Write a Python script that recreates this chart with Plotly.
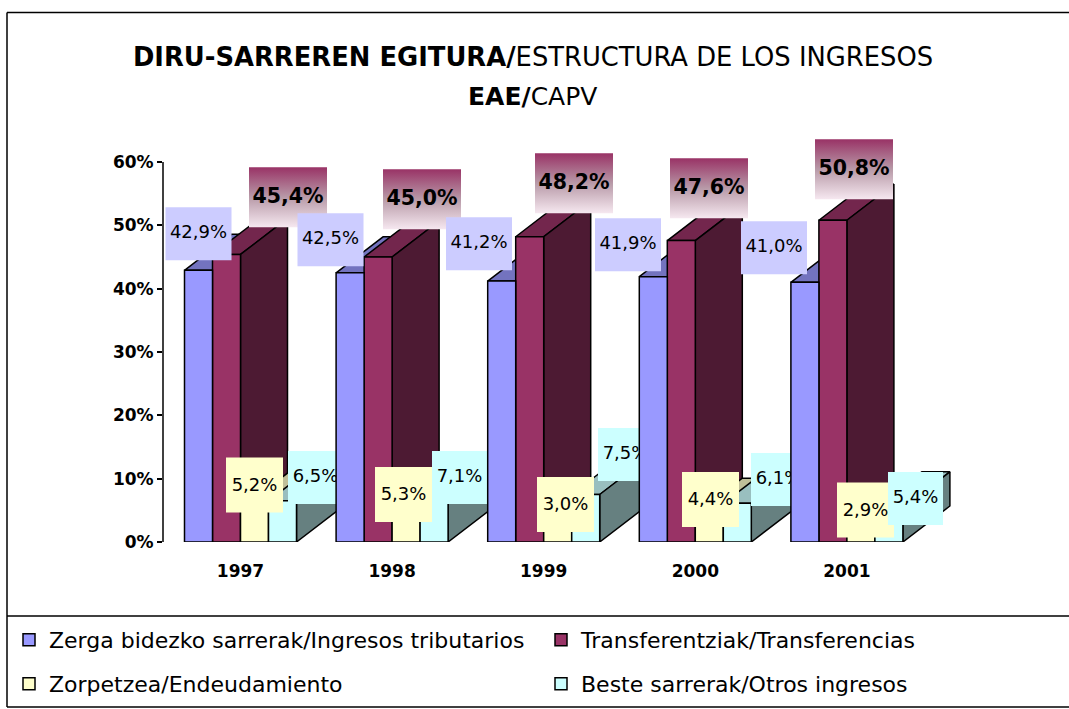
import plotly.graph_objects as go

# ---- data ----
YEARS = ["1997", "1998", "1999", "2000", "2001"]
SERIES_NAMES = [
    "Zerga bidezko sarrerak/Ingresos tributarios",
    "Transferentziak/Transferencias",
    "Zorpetzea/Endeudamiento",
    "Beste sarrerak/Otros ingresos",
]
TRIBUTARIOS = [42.9, 42.5, 41.2, 41.9, 41.0]
TRANSFERENCIAS = [45.4, 45.0, 48.2, 47.6, 50.8]
ENDEUDAMIENTO = [5.2, 5.3, 3.0, 4.4, 2.9]
OTROS = [6.5, 7.1, 7.5, 6.1, 5.4]
SERIES = [TRIBUTARIOS, TRANSFERENCIAS, ENDEUDAMIENTO, OTROS]
Y_TICKS = [0, 10, 20, 30, 40, 50, 60]

# ---- style: front / top / side colours ----
FRONT = ["#9999FF", "#993366", "#FFFFCC", "#CCFFFF"]
TOP = ["#7373BF", "#73264D", "#BFBF99", "#99BFBF"]
SIDE = ["#4D4D80", "#4D1A33", "#808066", "#668080"]
LABEL_BG = ["#CCCCFF", None, "#FFFFCC", "#CCFFFF"]

# ---- geometry (pixels of the 1069x709 page) ----
W, H = 1069, 709
PX_Y = 380 / 60  # pixels per percent
PLOT_L, PLOT_R, PLOT_B = 163, 1000, 542
PLOT_T = 120
PX_X = 151.6   # pixels per category
CENTER0 = 240.5
BAR_PX = 28
DEPTH_X = 47 / PX_X
DEPTH_Y = 36 / PX_Y
BAR_W = BAR_PX / PX_X
X_RANGE = [(PLOT_L - CENTER0) / PX_X, (PLOT_R - CENTER0) / PX_X]
Y_RANGE = [0, (PLOT_B - PLOT_T) / PX_Y]


def paper_x(px):
    return (px - PLOT_L) / (PLOT_R - PLOT_L)


def paper_y(py):
    return (PLOT_B - py) / (PLOT_B - PLOT_T)


# label placement: offset of box centre from the top-centre of its bar, in pixels
LABEL_DX = [
    [0, -19.6, -22.7, -25.3, -30.9],
    [61.5, 43.9, 44.3, 27.7, 21.1],
    [0, -2.6, 7.8, 1.2, 4.6],
    [33, 25.4, 39.8, 41.2, 26.6],
]
LABEL_DY = [
    [-36.5, -33.1, -37.3, -31.9, -34.6],
    [-57.2, -57.7, -53.4, -52.2, -50.9],
    [-24, -13.9, -18.5, -14.6, -13.6],
    [-23.3, -19.5, -39.9, -23.8, -9.3],
]
LABEL_SIZE = [(66, 53), (78, 60), (57, 55), (55, 53)]
LABEL_TEXT_SHIFT = [0.0, -0.1, -0.2, 0.0]  # in percent units

FONT = "DejaVu Sans"
LINE = dict(color="black", width=1.5)

fig = go.Figure()


def poly(xs, ys, color, axes, line=LINE, **kw):
    fig.add_trace(go.Scatter(
        x=xs + xs[:1], y=ys + ys[:1], mode="lines", fill="toself", fillcolor=color,
        line=line, hoverinfo="skip", showlegend=False, xaxis=axes[0], yaxis=axes[1],
        cliponaxis=False, **kw))


def bar_edges(s, g):
    left = g + (s - 2) * BAR_W
    return left, left + BAR_W


# layer 1: top and side faces, left to right inside each category
for g in range(len(YEARS)):
    for s, values in enumerate(SERIES):
        v = values[g]
        x0, x1 = bar_edges(s, g)
        poly([x0, x1, x1 + DEPTH_X, x0 + DEPTH_X], [v, v, v + DEPTH_Y, v + DEPTH_Y], TOP[s], ("x", "y"))
        poly([x1, x1 + DEPTH_X, x1 + DEPTH_X, x1], [0, DEPTH_Y, v + DEPTH_Y, v], SIDE[s], ("x", "y"))


LEGEND_OF = ["legend", "legend2", "legend3", "legend4"]


def front(s, axes):
    fig.add_trace(go.Bar(
        x=list(range(len(YEARS))), y=SERIES[s], name=SERIES_NAMES[s],
        width=BAR_W, offset=(s - 2) * BAR_W, marker=dict(color=FRONT[s], line=LINE),
        hoverinfo="skip", xaxis=axes[0], yaxis=axes[1], legend=LEGEND_OF[s]))


def label(s, g, axes):
    v = SERIES[s][g]
    x0, x1 = bar_edges(s, g)
    cx = (x0 + x1) / 2 + LABEL_DX[s][g] / PX_X
    cy = v - LABEL_DY[s][g] / PX_Y
    hw = LABEL_SIZE[s][0] / 2 / PX_X
    hh = LABEL_SIZE[s][1] / 2 / PX_Y
    xs, ys = [cx - hw, cx + hw, cx + hw, cx - hw], [cy - hh, cy - hh, cy + hh, cy + hh]
    none = dict(width=0, color="rgba(0,0,0,0)")
    if LABEL_BG[s] is None:
        poly(xs, ys, "rgba(0,0,0,0)", axes, line=none,
             fillgradient=dict(type="vertical", start=cy + hh, stop=cy - hh,
                               colorscale=[[0, "#993366"], [0.5, "#B89AA8"], [1, "#F6E8F0"]]))
    else:
        poly(xs, ys, LABEL_BG[s], axes, line=none)
    bold = LABEL_BG[s] is None
    txt = f"{v:.1f}%".replace(".", ",")
    fig.add_trace(go.Scatter(
        x=[cx], y=[cy + LABEL_TEXT_SHIFT[s]], mode="text", text=[f"<b>{txt}</b>" if bold else txt],
        textposition="middle center",
        textfont=dict(family=FONT, size=20.5 if bold else 18, color="black"),
        hoverinfo="skip", showlegend=False, xaxis=axes[0], yaxis=axes[1], cliponaxis=False))


# layer 2: front faces of three series
for s in (1, 2, 3):
    front(s, ("x2", "y2"))

# layer 3: yellow and cyan labels (the next category's blue column covers them)
for s in (2, 3):
    for g in range(len(YEARS)):
        label(s, g, ("x3", "y3"))

# layer 4: blue front faces
front(0, ("x4", "y4"))

# layer 5: maroon and blue labels
for s in (1, 0):
    for g in range(len(YEARS)):
        label(s, g, ("x5", "y5"))

overlay_x = dict(range=X_RANGE, visible=False, overlaying="x", fixedrange=True)
overlay_y = dict(range=Y_RANGE, visible=False, overlaying="y", fixedrange=True)

frame = dict(color="black", width=1.5)


def hline(y, x0=7, x1=W):
    return dict(type="line", xref="paper", yref="paper", x0=paper_x(x0), x1=paper_x(x1),
                y0=paper_y(y), y1=paper_y(y), line=frame, layer="above")


shapes = [
    hline(12.5), hline(616), hline(707),
    dict(type="line", xref="paper", yref="paper", x0=paper_x(7), x1=paper_x(7), y0=paper_y(12.5), y1=paper_y(707),
         line=frame, layer="above"),
    # value axis line stops at the top tick
    dict(type="line", xref="paper", yref="y", x0=0, x1=0, y0=0, y1=Y_TICKS[-1],
         line=dict(color="black", width=1.5), layer="below"),
]


def legend_at(px, py):
    return dict(orientation="v", xanchor="left", yanchor="middle", bgcolor="rgba(0,0,0,0)",
                font=dict(family=FONT, size=22, color="black"),
                itemclick=False, itemdoubleclick=False, x=paper_x(px), y=paper_y(py),
                xref="paper", yref="paper")


fig.update_layout(
    width=W, height=H, autosize=False,
    paper_bgcolor="white", plot_bgcolor="white",
    margin=dict(l=PLOT_L, r=W - PLOT_R, t=PLOT_T, b=H - PLOT_B, pad=0, autoexpand=False),
    barmode="overlay",
    title=dict(
        text="<b>DIRU-SARREREN EGITURA/</b>ESTRUCTURA DE LOS INGRESOS",
        x=533 / W, xanchor="center", y=1 - 57 / H, yanchor="middle",
        font=dict(family=FONT, size=25.8, color="black")),
    annotations=[dict(text="<b>EAE/</b>CAPV", xref="paper", yref="paper", x=paper_x(532),
                      y=paper_y(97), yanchor="middle", xanchor="center", showarrow=False,
                      font=dict(family=FONT, size=25, color="black"))],
    xaxis=dict(range=X_RANGE, tickmode="array", tickvals=list(range(len(YEARS))), ticktext=[f"<b>{y}</b>" for y in YEARS],
               showline=False, showgrid=False, zeroline=False, ticks="", ticklabelstandoff=17,
               tickfont=dict(family=FONT, size=17, color="black"), fixedrange=True),
    yaxis=dict(range=Y_RANGE, tickmode="array", tickvals=Y_TICKS, ticktext=[f"<b>{t}%</b>" for t in Y_TICKS],
               showline=False, showgrid=False, zeroline=False,
               ticks="outside", ticklen=5, tickcolor="black", tickwidth=1.5,
               tickfont=dict(family=FONT, size=17, color="black"), fixedrange=True),
    xaxis2=overlay_x, yaxis2=overlay_y, xaxis3=overlay_x, yaxis3=overlay_y,
    xaxis4=overlay_x, yaxis4=overlay_y, xaxis5=overlay_x, yaxis5=overlay_y,
    legend=legend_at(9, 640),
    legend2=legend_at(541, 640),
    legend3=legend_at(9, 684),
    legend4=legend_at(541, 684),
    shapes=shapes,
)

fig.write_html("out.html", config={"displayModeBar": False},
               post_script="document.body.style.margin='0';")
